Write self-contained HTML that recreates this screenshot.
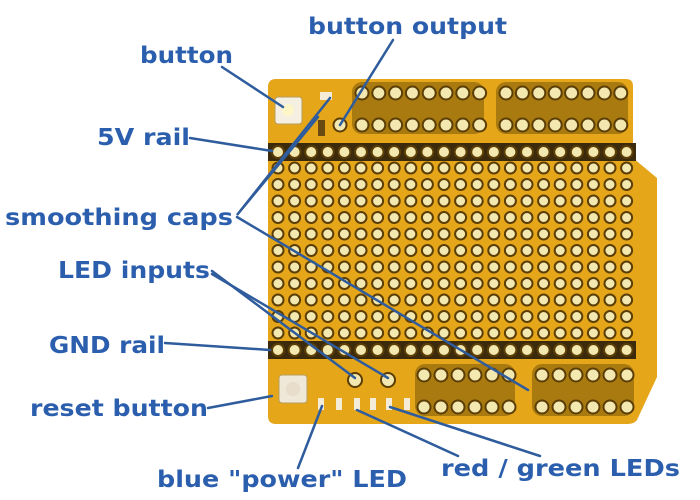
<!DOCTYPE html>
<html><head><style>
html,body{margin:0;padding:0;background:#fff;}
svg{display:block;}
text{font-family:"DejaVu Sans","Liberation Sans",sans-serif;font-weight:bold;fill:#2b5fae;font-size:23px;}
</style></head><body>
<svg width="700" height="500" viewBox="0 0 700 500">
<path d="M276,79 L626,79 Q633,79 633,86 L633,158 L657,178 L657,377 L637,420 Q634,424 628,424 L276,424 Q268,424 268,416 L268,87 Q268,79 276,79 Z" fill="#e6a61a"/>
<rect x="268" y="143" width="368" height="18" fill="#3b2a0c"/>
<rect x="268" y="341" width="368" height="18" fill="#3b2a0c"/>
<rect x="352" y="82" width="132" height="52" rx="10" fill="#a87a10"/>
<rect x="496" y="82" width="132" height="52" rx="10" fill="#a87a10"/>
<rect x="415" y="364" width="100" height="52" rx="10" fill="#a87a10"/>
<rect x="532" y="364" width="102" height="52" rx="10" fill="#a87a10"/>
<g fill="#f3e8b0" stroke="#5b3e06" stroke-width="2" id="holes"></g>
<rect x="275" y="97" width="27" height="27" rx="3" fill="#f4efe0" stroke="#b89c5c"/>
<circle cx="288" cy="110" r="6" fill="#fff6c8"/>
<rect x="279" y="375" width="28" height="28" rx="3" fill="#efe7d8" stroke="#b89c5c"/>
<circle cx="293" cy="389" r="7" fill="#e8dccb"/>
<rect x="320" y="92" width="12" height="8" fill="#f4ecd8"/>
<rect x="318" y="120" width="7" height="16" fill="#6a4a10"/>
<g fill="#f4ecd8"><rect x="318" y="398" width="6" height="12"/><rect x="336" y="398" width="6" height="12"/><rect x="354" y="398" width="6" height="12"/><rect x="370" y="398" width="6" height="12"/><rect x="386" y="398" width="6" height="12"/><rect x="404" y="398" width="6" height="12"/></g>
<circle cx="355" cy="380" r="7" fill="#f3e8b0" stroke="#5b3e06" stroke-width="2"/>
<circle cx="388" cy="380" r="7" fill="#f3e8b0" stroke="#5b3e06" stroke-width="2"/>
<g stroke="#2f5c9c" stroke-width="2.5" fill="none" stroke-linecap="round">
<line x1="222" y1="67" x2="283" y2="107"/>
<line x1="393" y1="40" x2="340" y2="125"/>
<line x1="190" y1="138" x2="272" y2="151"/>
<polyline points="330,98 237,215 318,117"/>
<line x1="237" y1="217" x2="528" y2="390"/>
<line x1="212" y1="271" x2="355" y2="378"/>
<line x1="212" y1="274" x2="388" y2="378"/>
<line x1="165" y1="343" x2="270" y2="350"/>
<line x1="208" y1="408" x2="272" y2="396"/>
<line x1="298" y1="468" x2="322" y2="406"/>
<line x1="458" y1="456" x2="357" y2="410"/>
<line x1="540" y1="456" x2="390" y2="407"/>
</g>
<text x="308" y="34" textLength="199" lengthAdjust="spacingAndGlyphs">button output</text>
<text x="140" y="63" textLength="93" lengthAdjust="spacingAndGlyphs">button</text>
<text x="97" y="145" textLength="93" lengthAdjust="spacingAndGlyphs">5V rail</text>
<text x="5" y="225" textLength="228" lengthAdjust="spacingAndGlyphs">smoothing caps</text>
<text x="58" y="278" textLength="152" lengthAdjust="spacingAndGlyphs">LED inputs</text>
<text x="49" y="353" textLength="116" lengthAdjust="spacingAndGlyphs">GND rail</text>
<text x="30" y="416" textLength="178" lengthAdjust="spacingAndGlyphs">reset button</text>
<text x="157" y="487" textLength="250" lengthAdjust="spacingAndGlyphs">blue "power" LED</text>
<text x="441" y="476" textLength="239" lengthAdjust="spacingAndGlyphs">red / green LEDs</text>
</svg>
<script>
var h=document.getElementById('holes'),s='';
function c(x,y,r){s+='<circle cx="'+x+'" cy="'+y+'" r="'+r+'"/>';}
for(var i=0;i<22;i++){var x=278+i*16.6;c(x,152,6);c(x,350,6);for(var j=0;j<11;j++)c(x,168+j*16.5,5.5);}
for(var i=0;i<8;i++){c(362+i*16.8,93,6.5);c(362+i*16.8,125,6.5);c(506+i*16.4,93,6.5);c(506+i*16.4,125,6.5);}
c(340,125,6.5);
for(var i=0;i<6;i++){c(424+i*17,375,6.5);c(424+i*17,407,6.5);c(542+i*17,375,6.5);c(542+i*17,407,6.5);}
h.innerHTML=s;
</script>
</body></html>
